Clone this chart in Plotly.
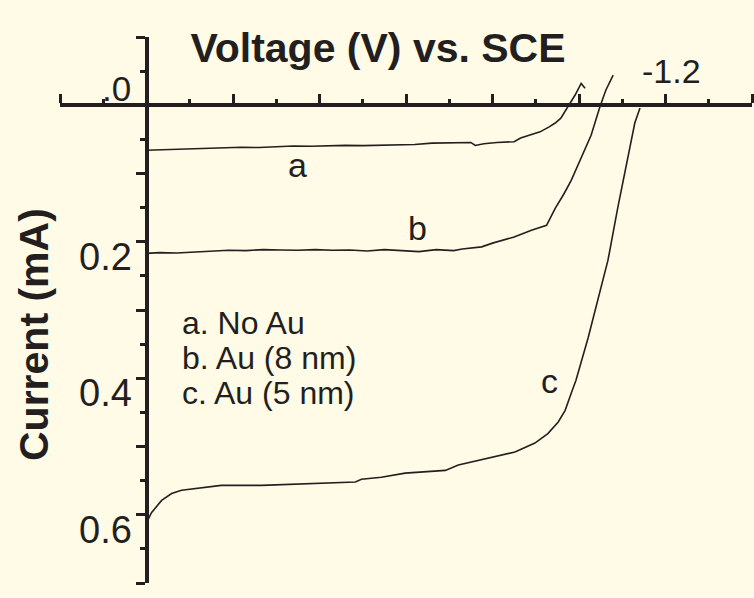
import plotly.graph_objects as go

# ---------------- data ----------------
V_a = [0.0, -0.03, -0.06, -0.10, -0.14, -0.18, -0.22, -0.26, -0.30, -0.34, -0.38, -0.42,
       -0.46, -0.50, -0.54, -0.58, -0.62, -0.66, -0.70, -0.73, -0.75, -0.76, -0.78, -0.81,
       -0.85, -0.865, -0.89, -0.91, -0.93, -0.945, -0.958, -0.97, -0.98, -0.991, -1.005, -1.014]
I_a = [0.066, 0.0655, 0.064, 0.0635, 0.063, 0.0625, 0.0615, 0.062, 0.0605, 0.0598, 0.060, 0.059,
       0.0588, 0.0592, 0.0585, 0.0586, 0.0575, 0.0555, 0.055, 0.0545, 0.0545, 0.059, 0.0565, 0.0545,
       0.0535, 0.048, 0.043, 0.039, 0.032, 0.026, 0.019, 0.007, -0.003, -0.015, -0.032, -0.025]

V_b = [0.0, -0.03, -0.07, -0.11, -0.15, -0.19, -0.23, -0.27, -0.31, -0.35, -0.39, -0.43,
       -0.47, -0.51, -0.55, -0.59, -0.63, -0.67, -0.71, -0.73, -0.775, -0.80, -0.85, -0.89,
       -0.925, -0.945, -0.965, -0.982, -1.005, -1.028, -1.048, -1.062, -1.079]
I_b = [0.217, 0.216, 0.2165, 0.215, 0.2145, 0.2125, 0.213, 0.2115, 0.212, 0.2125, 0.2115, 0.2125,
       0.212, 0.2135, 0.2115, 0.2125, 0.2145, 0.2115, 0.213, 0.2105, 0.2075, 0.202, 0.193, 0.183,
       0.176, 0.151, 0.13, 0.110, 0.076, 0.044, 0.003, -0.022, -0.044]

V_c = [0.0, -0.0115, -0.035, -0.058, -0.081, -0.127, -0.173, -0.266, -0.351, -0.390, -0.483,
       -0.497, -0.543, -0.598, -0.691, -0.721, -0.806, -0.852, -0.898, -0.928, -0.952, -0.968,
       -0.982, -0.993, -1.021, -1.044, -1.067, -1.090, -1.113, -1.129, -1.141]
I_c = [0.612, 0.597, 0.579, 0.569, 0.564, 0.561, 0.557, 0.557, 0.555, 0.554, 0.552,
       0.548, 0.545, 0.539, 0.535, 0.527, 0.514, 0.508, 0.495, 0.481, 0.464, 0.447,
       0.422, 0.403, 0.341, 0.286, 0.227, 0.149, 0.076, 0.026, 0.004]

curve_names = ["a", "b", "c"]
legend_lines = ["a. No Au", "b. Au (8 nm)", "c. Au (5 nm)"]

X_RANGE = [0.2, -1.4]
Y_RANGE = [0.7, -0.1]
X_MAJOR = [0.2, 0.0, -0.2, -0.4, -0.6, -0.8, -1.0, -1.2, -1.4]
X_MINOR = [0.1, -0.1, -0.3, -0.5, -0.7, -0.9, -1.1, -1.3]
Y_MAJOR = [-0.1, 0.0, 0.1, 0.2, 0.3, 0.4, 0.5, 0.6, 0.7]
Y_MINOR = [-0.05, 0.05, 0.15, 0.25, 0.35, 0.45, 0.55, 0.65]
X_LABELS = {0.0: ".0", -1.2: "-1.2"}
Y_LABELS = {0.2: "0.2", 0.4: "0.4", 0.6: "0.6"}

TITLE = "Voltage (V) vs. SCE"
YTITLE = "Current (mA)"

# ---------------- style ----------------
BG = "#FFFBE6"
INK = "#231f20"
FONT = "Liberation Sans, Arial, sans-serif"

fig = go.Figure()
for V, I, n in [(V_a, I_a, "a"), (V_b, I_b, "b"), (V_c, I_c, "c")]:
    fig.add_trace(go.Scatter(x=V, y=I, mode="lines", name=n,
                             line=dict(color=INK, width=1.6), showlegend=False))

# axis crossing positions (paper fractions of the plot area)
x_pos_of_y0 = (0 - Y_RANGE[0]) / (Y_RANGE[1] - Y_RANGE[0])
y_pos_of_x0 = (0 - X_RANGE[0]) / (X_RANGE[1] - X_RANGE[0])

fig.update_layout(
    width=754, height=598,
    margin=dict(l=60, r=2, t=37, b=15, pad=0),
    paper_bgcolor=BG, plot_bgcolor=BG,
    font=dict(family=FONT, color=INK),
    title=dict(text="<b>%s</b>" % TITLE, x=378 / 754, xref="container", xanchor="center",
               y=1 - 48 / 598, yref="container", yanchor="middle",
               font=dict(size=41, family=FONT, color=INK)),
    xaxis=dict(range=X_RANGE, anchor="free", position=x_pos_of_y0, side="top",
               showgrid=False, zeroline=False, showline=True, linewidth=4, linecolor=INK,
               ticks="outside", tickmode="array", tickvals=X_MAJOR, ticklen=9, tickwidth=3,
               tickcolor=INK, showticklabels=False,
               minor=dict(tickmode="array", tickvals=X_MINOR, ticks="outside", ticklen=4,
                          tickwidth=3, tickcolor=INK)),
    yaxis=dict(range=Y_RANGE, anchor="free", position=y_pos_of_x0, side="left",
               showgrid=False, zeroline=False, showline=True, linewidth=4, linecolor=INK,
               ticks="outside", tickmode="array", tickvals=Y_MAJOR, ticklen=9, tickwidth=3,
               tickcolor=INK, showticklabels=False,
               minor=dict(tickmode="array", tickvals=Y_MINOR, ticks="outside", ticklen=5,
                          tickwidth=3, tickcolor=INK)),
)

ann = []
# x tick labels
ann.append(dict(x=0.0, y=0.0, xref="x", yref="y", text=X_LABELS[0.0], showarrow=False,
                xanchor="right", yanchor="bottom", xshift=-14, yshift=-5,
                font=dict(size=35, family=FONT, color=INK)))
ann.append(dict(x=-1.2, y=0.0, xref="x", yref="y", text=X_LABELS[-1.2], showarrow=False,
                xanchor="center", yanchor="bottom", xshift=6, yshift=13,
                font=dict(size=34, family=FONT, color=INK)))
# y tick labels
for v, t in Y_LABELS.items():
    ann.append(dict(x=0.0, y=v, xref="x", yref="y", text=t, showarrow=False,
                    xanchor="right", yanchor="top", xshift=-13, yshift=8,
                    font=dict(size=38, family=FONT, color=INK)))
# y axis title
ann.append(dict(x=(34 - 60) / 692, y=(583 - 335) / 546, xref="paper", yref="paper",
                text="<b>%s</b>" % YTITLE, textangle=-90, showarrow=False,
                xanchor="center", yanchor="middle",
                font=dict(size=41, family=FONT, color=INK)))
# curve labels
for n, (xv, yv) in zip(curve_names, [(-0.349, 0.088), (-0.626, 0.180), (-0.931, 0.404)]):
    ann.append(dict(x=xv, y=yv, xref="x", yref="y", text=n, showarrow=False,
                    xanchor="center", yanchor="middle",
                    font=dict(size=34, family=FONT, color=INK)))
# legend text
for k, line in enumerate(legend_lines):
    ann.append(dict(x=-0.0785, y=0.319 + k * 0.0513, xref="x", yref="y", text=line,
                    showarrow=False, xanchor="left", yanchor="middle",
                    font=dict(size=32, family=FONT, color=INK)))

fig.update_layout(annotations=ann)
fig.write_html(
    "out.html",
    config={"displayModeBar": False},
    post_script="document.body.style.margin='0px';document.body.style.background='%s';" % BG,
)
